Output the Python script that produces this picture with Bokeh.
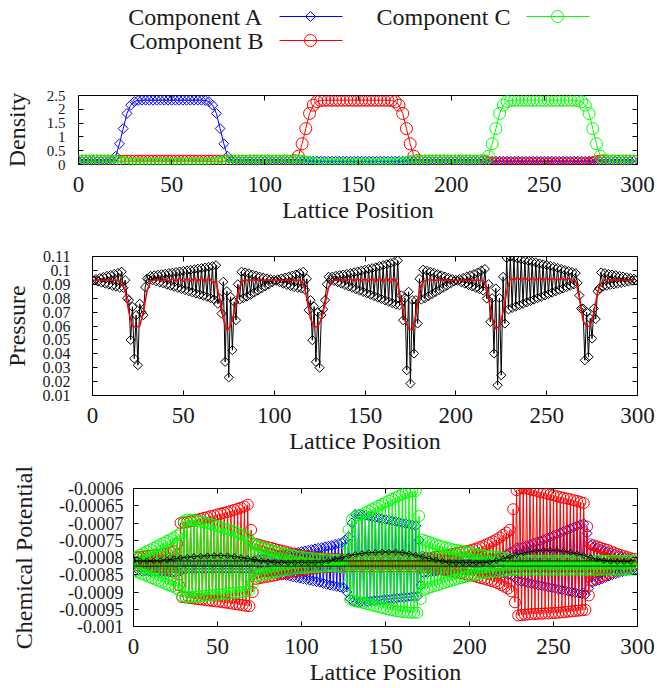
import numpy as np
from bokeh.plotting import figure
from bokeh.layouts import column
from bokeh.models import Range1d, FixedTicker, LinearAxis, PrintfTickFormatter, CustomJSTickFormatter
from bokeh.embed import file_html
from bokeh.resources import INLINE
from bokeh.core.properties import value

FONT = "Liberation Serif, serif"
BLUE, RED, GREEN, BLACK = "#0000ff", "#ff0000", "#00ff00", "#000000"
TXT = "#1a1a1a"

# ---------------- data ----------------
lattice = list(range(0, 300))          # every lattice site
lattice2 = list(range(0, 300, 2))      # every second site
lattice4 = list(range(0, 300, 4))      # every fourth site

x_ticks = [0, 50, 100, 150, 200, 250, 300]
density_ticks = [0, 0.5, 1, 1.5, 2, 2.5]
pressure_ticks = [0.01, 0.02, 0.03, 0.04, 0.05, 0.06, 0.07, 0.08, 0.09, 0.1, 0.11]
mu_ticks = [-0.001, -0.00095, -0.0009, -0.00085, -0.0008, -0.00075, -0.0007, -0.00065, -0.0006]
legend_labels = ["Component A", "Component B", "Component C"]

# densities at x = 0,2,...,298
rho_A = ([0.12] * 9 + [0.14, 0.30, 0.75, 1.30, 1.85, 2.15, 2.28, 2.32] + [2.33] * 17
         + [2.32, 2.28, 2.15, 1.85, 1.30, 0.75, 0.30, 0.14] + [0.12] * 108)
rho_B = ([0.12] * 58 + [0.14, 0.30, 0.75, 1.30, 1.85, 2.15, 2.28, 2.32] + [2.33] * 18
         + [2.32, 2.28, 2.15, 1.85, 1.30, 0.75, 0.30, 0.14] + [0.12] * 17
         + [0.10, 0.06, 0.03] + [0.02] * 25 + [0.03, 0.06, 0.10] + [0.12] * 10)
rho_C = ([0.12] * 10 + [0.11, 0.09, 0.06, 0.03, 0.02] + [0.01] * 21 + [0.02, 0.04, 0.07, 0.10, 0.11]
         + [0.12] * 19 + [0.11, 0.09, 0.06, 0.03, 0.02] + [0.01] * 21 + [0.02, 0.04, 0.07, 0.10, 0.11]
         + [0.12] * 18 + [0.14, 0.30, 0.75, 1.30, 1.85, 2.15, 2.28, 2.32] + [2.33] * 17
         + [2.32, 2.28, 2.15, 1.85, 1.30, 0.75, 0.30, 0.14] + [0.12] * 8)

# pressure at even sites (0,2,..,298) and odd sites (1,3,..,299)
pressure_even = [
    0.0930, 0.0937, 0.0945, 0.0952, 0.0960, 0.0967, 0.0975, 0.0982, 0.0990, 0.0930,
    0.0786, 0.0738, 0.0678, 0.0760, 0.0678, 0.0940, 0.0960, 0.0964, 0.0968, 0.0972,
    0.0976, 0.0980, 0.0984, 0.0988, 0.0992, 0.0996, 0.1000, 0.1004, 0.1008, 0.1012,
    0.1016, 0.1020, 0.1025, 0.1030, 0.1037, 0.0798, 0.0918, 0.0850, 0.0810, 0.0774,
    0.0900, 0.0990, 0.0985, 0.0978, 0.0970, 0.0962, 0.0955, 0.0948, 0.0942, 0.0936,
    0.0932, 0.0936, 0.0942, 0.0948, 0.0955, 0.0962, 0.0970, 0.0980, 0.0990, 0.0940,
    0.0786, 0.0740, 0.0700, 0.0678, 0.0786, 0.0954, 0.0955, 0.0960, 0.0965, 0.0970,
    0.0975, 0.0980, 0.0986, 0.0992, 0.0998, 0.1004, 0.1010, 0.1016, 0.1022, 0.1030,
    0.1037, 0.1044, 0.1052, 0.1060, 0.1070, 0.0820, 0.0800, 0.0846, 0.0786, 0.0786,
    0.0940, 0.1005, 0.0998, 0.0990, 0.0982, 0.0973, 0.0964, 0.0955, 0.0946, 0.0938,
    0.0932, 0.0938, 0.0946, 0.0955, 0.0964, 0.0973, 0.0985, 0.0998, 0.1010, 0.0900,
    0.0800, 0.0870, 0.0800, 0.0954, 0.1090, 0.1098, 0.1092, 0.1086, 0.1080, 0.1074,
    0.1068, 0.1062, 0.1056, 0.1050, 0.1044, 0.1038, 0.1032, 0.1025, 0.1018, 0.1010,
    0.1002, 0.0995, 0.0988, 0.0980, 0.0820, 0.0726, 0.0700, 0.0654, 0.0726, 0.0850,
    0.0985, 0.0980, 0.0975, 0.0970, 0.0965, 0.0960, 0.0955, 0.0950, 0.0945, 0.0940,
]
pressure_odd = [
    0.0928, 0.0920, 0.0912, 0.0905, 0.0898, 0.0890, 0.0883, 0.0876, 0.0875, 0.0800,
    0.0500, 0.0366, 0.0318, 0.0700, 0.0880, 0.0935, 0.0930, 0.0922, 0.0914, 0.0906,
    0.0898, 0.0890, 0.0882, 0.0874, 0.0866, 0.0858, 0.0850, 0.0842, 0.0834, 0.0826,
    0.0818, 0.0810, 0.0800, 0.0790, 0.0760, 0.0690, 0.0342, 0.0230, 0.0426, 0.0642,
    0.0790, 0.0800, 0.0812, 0.0825, 0.0840, 0.0855, 0.0870, 0.0885, 0.0900, 0.0915,
    0.0925, 0.0915, 0.0905, 0.0895, 0.0888, 0.0880, 0.0875, 0.0870, 0.0860, 0.0714,
    0.0498, 0.0342, 0.0300, 0.0720, 0.0900, 0.0930, 0.0925, 0.0915, 0.0905, 0.0895,
    0.0885, 0.0875, 0.0865, 0.0855, 0.0845, 0.0835, 0.0825, 0.0815, 0.0805, 0.0795,
    0.0785, 0.0775, 0.0765, 0.0755, 0.0750, 0.0642, 0.0282, 0.0186, 0.0402, 0.0618,
    0.0790, 0.0800, 0.0815, 0.0830, 0.0845, 0.0860, 0.0875, 0.0890, 0.0905, 0.0920,
    0.0925, 0.0915, 0.0905, 0.0895, 0.0885, 0.0875, 0.0865, 0.0855, 0.0798, 0.0630,
    0.0402, 0.0174, 0.0246, 0.0618, 0.0720, 0.0730, 0.0740, 0.0750, 0.0760, 0.0770,
    0.0780, 0.0790, 0.0800, 0.0810, 0.0820, 0.0830, 0.0840, 0.0850, 0.0860, 0.0870,
    0.0880, 0.0890, 0.0900, 0.0910, 0.0726, 0.0354, 0.0378, 0.0510, 0.0650, 0.0870,
    0.0884, 0.0890, 0.0895, 0.0900, 0.0905, 0.0910, 0.0915, 0.0920, 0.0925, 0.0930,
]
# averaged pressure at x = 0,2,...,298
pressure_avg = [
    0.0930, 0.0930, 0.0930, 0.0930, 0.0930, 0.0930, 0.0930, 0.0928, 0.0915, 0.0850,
    0.0700, 0.0600, 0.0590, 0.0600, 0.0700, 0.0850, 0.0920, 0.0930, 0.0935, 0.0925,
    0.0938, 0.0925, 0.0940, 0.0922, 0.0942, 0.0920, 0.0944, 0.0920, 0.0946, 0.0918,
    0.0948, 0.0915, 0.0950, 0.0912, 0.0920, 0.0800, 0.0650, 0.0570, 0.0600, 0.0700,
    0.0840, 0.0915, 0.0935, 0.0925, 0.0935, 0.0928, 0.0933, 0.0930, 0.0932, 0.0930,
    0.0930, 0.0930, 0.0930, 0.0930, 0.0930, 0.0930, 0.0930, 0.0928, 0.0910, 0.0800,
    0.0650, 0.0594, 0.0594, 0.0650, 0.0760, 0.0880, 0.0925, 0.0932, 0.0930, 0.0935,
    0.0928, 0.0938, 0.0925, 0.0940, 0.0922, 0.0942, 0.0920, 0.0945, 0.0918, 0.0948,
    0.0915, 0.0950, 0.0912, 0.0950, 0.0900, 0.0780, 0.0640, 0.0580, 0.0570, 0.0680,
    0.0850, 0.0920, 0.0930, 0.0934, 0.0928, 0.0933, 0.0930, 0.0931, 0.0930, 0.0930,
    0.0930, 0.0930, 0.0930, 0.0930, 0.0930, 0.0930, 0.0930, 0.0930, 0.0915, 0.0800,
    0.0650, 0.0580, 0.0600, 0.0700, 0.0850, 0.0945, 0.0930, 0.0950, 0.0928, 0.0948,
    0.0928, 0.0948, 0.0930, 0.0946, 0.0930, 0.0945, 0.0932, 0.0943, 0.0932, 0.0942,
    0.0933, 0.0940, 0.0930, 0.0925, 0.0800, 0.0640, 0.0594, 0.0600, 0.0700, 0.0840,
    0.0910, 0.0930, 0.0935, 0.0932, 0.0933, 0.0931, 0.0931, 0.0930, 0.0930, 0.0930,
]

# chemical potential, units of 1e-4: "hi" at even sites, "lo" at odd sites
muA_hi = ([-8.10, -8.10, -8.10, -8.10, -8.09, -8.09, -8.08, -8.08, -8.07, -8.07,
           -8.06, -8.06, -8.05, -8.07, -8.10, -8.11, -8.12, -8.12, -8.12, -8.12]
          + [-8.12] * 10 +
          [-8.12, -8.12, -8.12, -8.12, -8.12, -8.10, -8.08, -8.06, -8.04, -8.02,
           -8.00, -7.98, -7.97, -7.95, -7.93, -7.92, -7.90, -7.88, -7.86, -7.85,
           -7.83, -7.81, -7.79, -7.77, -7.75, -7.73, -7.71, -7.69, -7.67, -7.65,
           -7.62, -7.60, -7.57, -7.50, -7.40, -7.00, -6.75, -6.76, -6.77, -6.78,
           -6.80, -6.82, -6.84, -6.86, -6.88, -6.90, -6.92, -6.94, -6.96, -6.98,
           -7.00, -7.02, -7.04, -7.06, -7.08, -7.50, -7.95, -7.97, -8.00, -8.02,
           -8.03, -8.04, -8.05, -8.05, -8.06, -8.06, -8.07, -8.07, -8.07, -8.07,
           -8.07, -8.07, -8.06, -8.06, -8.05, -8.04, -8.03, -8.02, -8.00, -7.98,
           -7.95, -7.90, -7.85, -7.80, -7.72, -7.70, -7.68, -7.65, -7.62, -7.58,
           -7.55, -7.52, -7.48, -7.44, -7.40, -7.36, -7.32, -7.28, -7.24, -7.20,
           -7.16, -7.12, -7.08, -7.05, -7.02, -7.30, -7.65, -7.68, -7.72, -7.76,
           -7.80, -7.84, -7.87, -7.90, -7.94, -7.97, -8.00, -8.02, -8.05, -8.07])
muA_lo = ([-8.38, -8.38, -8.39, -8.39, -8.40, -8.40, -8.41, -8.41, -8.42, -8.42,
           -8.43, -8.43, -8.44, -8.42, -8.36, -8.34, -8.33, -8.33, -8.33, -8.33]
          + [-8.33] * 10 +
          [-8.33, -8.33, -8.33, -8.33, -8.33, -8.34, -8.36, -8.38, -8.40, -8.41,
           -8.42, -8.44, -8.46, -8.48, -8.50, -8.52, -8.54, -8.56, -8.58, -8.60,
           -8.62, -8.64, -8.66, -8.68, -8.70, -8.72, -8.75, -8.78, -8.80, -8.82,
           -8.84, -8.86, -8.88, -9.00, -9.20, -9.28, -9.30, -9.29, -9.28, -9.27,
           -9.26, -9.25, -9.24, -9.23, -9.22, -9.21, -9.20, -9.19, -9.18, -9.17,
           -9.16, -9.15, -9.14, -9.13, -9.12, -8.80, -8.45, -8.44, -8.42, -8.41,
           -8.40, -8.39, -8.38, -8.38, -8.37, -8.37, -8.36, -8.36, -8.36, -8.36,
           -8.36, -8.36, -8.37, -8.37, -8.38, -8.39, -8.40, -8.41, -8.43, -8.45,
           -8.47, -8.50, -8.52, -8.60, -8.68, -8.70, -8.72, -8.74, -8.76, -8.78,
           -8.80, -8.82, -8.84, -8.86, -8.88, -8.90, -8.92, -8.94, -8.96, -8.98,
           -9.00, -9.02, -9.04, -9.06, -9.07, -8.90, -8.72, -8.69, -8.66, -8.62,
           -8.58, -8.54, -8.50, -8.47, -8.44, -8.41, -8.39, -8.37, -8.35, -8.34])
muB_hi = ([-8.00, -7.99, -7.98, -7.97, -7.96, -7.95, -7.94, -7.93, -7.92, -7.90,
           -7.88, -7.85, -7.82, -7.60, -7.00, -6.99, -6.97, -6.95, -6.93, -6.90,
           -6.88, -6.85, -6.83, -6.80, -6.78, -6.75, -6.73, -6.70, -6.68, -6.65,
           -6.62, -6.59, -6.56, -6.52, -6.47, -7.20, -7.60, -7.62, -7.65, -7.68,
           -7.70, -7.72, -7.75, -7.78, -7.80, -7.82, -7.85, -7.88, -7.90, -7.92,
           -7.95, -7.96, -7.98, -7.99, -8.00, -8.01, -8.02, -8.03, -8.04, -8.04,
           -8.05, -8.05, -8.06, -8.06, -8.07, -8.07, -8.08, -8.08, -8.08, -8.08]
          + [-8.08] * 10 +
          [-8.08, -8.08, -8.08, -8.08, -8.08, -8.07, -8.05, -8.04, -8.02, -8.00,
           -7.98, -7.97, -7.95, -7.93, -7.92, -7.90, -7.88, -7.86, -7.84, -7.82,
           -7.80, -7.77, -7.74, -7.70, -7.67, -7.62, -7.58, -7.53, -7.48, -7.42,
           -7.35, -7.28, -7.20, -6.60, -6.05, -6.00, -5.98, -6.00, -6.02, -6.05,
           -6.07, -6.10, -6.12, -6.15, -6.17, -6.20, -6.22, -6.25, -6.27, -6.29,
           -6.31, -6.34, -6.36, -6.39, -6.42, -7.10, -7.62, -7.65, -7.68, -7.72,
           -7.75, -7.78, -7.82, -7.86, -7.90, -7.93, -7.96, -7.99, -8.02, -8.04])
muB_lo = ([-8.22, -8.23, -8.24, -8.25, -8.26, -8.27, -8.28, -8.29, -8.30, -8.32,
           -8.35, -8.40, -8.45, -8.80, -9.15, -9.16, -9.17, -9.18, -9.20, -9.21,
           -9.22, -9.24, -9.25, -9.26, -9.27, -9.28, -9.30, -9.31, -9.32, -9.34,
           -9.35, -9.37, -9.38, -9.40, -9.41, -9.00, -8.62, -8.60, -8.58, -8.56,
           -8.55, -8.53, -8.51, -8.49, -8.47, -8.45, -8.43, -8.41, -8.40, -8.38,
           -8.36, -8.35, -8.33, -8.32, -8.30, -8.29, -8.28, -8.27, -8.27, -8.26]
          + [-8.26] * 25 +
          [-8.27, -8.28, -8.29, -8.30, -8.31,
           -8.33, -8.34, -8.36, -8.38, -8.40, -8.42, -8.44, -8.46, -8.48, -8.50,
           -8.52, -8.54, -8.57, -8.60, -8.62, -8.65, -8.68, -8.71, -8.75, -8.80,
           -8.85, -8.90, -8.98, -9.30, -9.68, -9.67, -9.66, -9.65, -9.64, -9.64,
           -9.63, -9.63, -9.62, -9.62, -9.61, -9.61, -9.60, -9.59, -9.58, -9.57,
           -9.56, -9.55, -9.54, -9.53, -9.52, -9.10, -8.65, -8.62, -8.58, -8.54,
           -8.50, -8.46, -8.42, -8.38, -8.35, -8.32, -8.28, -8.25, -8.22, -8.20])
muC_hi = ([-8.02, -7.97, -7.92, -7.87, -7.82, -7.77, -7.72, -7.67, -7.62, -7.57,
           -7.52, -7.47, -7.42, -7.36, -7.30, -6.95, -6.90, -6.91, -6.92, -6.94,
           -6.96, -6.98, -7.01, -7.03, -7.06, -7.09, -7.12, -7.15, -7.18, -7.21,
           -7.25, -7.29, -7.33, -7.37, -7.42, -7.55, -7.62, -7.66, -7.70, -7.73,
           -7.76, -7.79, -7.82, -7.85, -7.87, -7.89, -7.91, -7.93, -7.95, -7.97,
           -7.98, -8.00, -8.01, -8.02, -8.03, -8.04, -8.05, -8.05, -8.06, -8.06,
           -8.07, -8.07, -8.08, -7.60, -7.20, -6.90, -6.82, -6.78, -6.75, -6.70,
           -6.65, -6.60, -6.55, -6.50, -6.45, -6.40, -6.35, -6.30, -6.26, -6.21,
           -6.17, -6.13, -6.10, -6.08, -6.07, -6.80, -7.48, -7.52, -7.55, -7.59,
           -7.62, -7.65, -7.68, -7.71, -7.73, -7.76, -7.78, -7.80, -7.82, -7.84,
           -7.86, -7.88, -7.90, -7.92, -7.93, -7.95, -7.96, -7.97, -7.98, -7.99,
           -8.00, -8.03, -8.05, -8.07, -8.08, -8.09, -8.10, -8.10, -8.10, -8.10]
          + [-8.10] * 30)
muC_lo = ([-8.40, -8.44, -8.48, -8.52, -8.56, -8.60, -8.64, -8.68, -8.72, -8.76,
           -8.80, -8.84, -8.88, -8.95, -9.12, -9.14, -9.15, -9.15, -9.14, -9.13,
           -9.12, -9.11, -9.10, -9.09, -9.08, -9.07, -9.06, -9.05, -9.04, -9.03,
           -9.02, -9.01, -9.00, -8.98, -8.95, -8.75, -8.55, -8.52, -8.50, -8.48,
           -8.46, -8.44, -8.42, -8.40, -8.38, -8.36, -8.35, -8.33, -8.32, -8.31,
           -8.30, -8.29, -8.28, -8.28, -8.27, -8.27, -8.26, -8.26, -8.25, -8.25,
           -8.25, -8.27, -8.30, -8.80, -9.22, -9.25, -9.27, -9.30, -9.32, -9.35,
           -9.37, -9.40, -9.42, -9.45, -9.47, -9.50, -9.52, -9.54, -9.56, -9.57,
           -9.58, -9.59, -9.60, -9.60, -9.60, -9.20, -8.93, -8.90, -8.86, -8.83,
           -8.80, -8.77, -8.74, -8.71, -8.68, -8.65, -8.62, -8.60, -8.57, -8.54,
           -8.52, -8.50, -8.48, -8.46, -8.45, -8.43, -8.42, -8.41, -8.40, -8.39,
           -8.38, -8.37, -8.36, -8.36, -8.35, -8.35, -8.35, -8.35, -8.35, -8.35]
          + [-8.35] * 30)
# averaged chemical potential (1e-4 units) at x = 0,4,...,296
mu_mean = [
    -8.10, -8.10, -8.10, -8.10, -8.09, -8.07, -8.04, -8.01, -7.99, -7.97,
    -7.96, -7.95, -7.94, -7.94, -7.95, -7.97, -8.00, -8.03, -8.06, -8.09,
    -8.12, -8.14, -8.15, -8.15, -8.15, -8.15, -8.15, -8.15, -8.14, -8.10,
    -8.05, -8.00, -7.95, -7.91, -7.88, -7.86, -7.85, -7.84, -7.84, -7.84,
    -7.86, -7.89, -7.93, -7.98, -8.03, -8.07, -8.11, -8.14, -8.15, -8.15,
    -8.15, -8.15, -8.15, -8.13, -8.09, -8.04, -7.98, -7.92, -7.87, -7.83,
    -7.80, -7.79, -7.79, -7.80, -7.82, -7.85, -7.89, -7.94, -8.00, -8.05,
    -8.09, -8.11, -8.12, -8.12, -8.12]
mu_level_1 = -8.10
mu_level_2 = -8.25


def interleave(even_vals, odd_vals, scale=1.0):
    out = []
    for e, o in zip(even_vals, odd_vals):
        out += [e * scale, o * scale]
    return out


pressure = interleave(pressure_even, pressure_odd)
mu_A = interleave(muA_hi, muA_lo, 1e-4)
mu_B = interleave(muB_hi, muB_lo, 1e-4)
mu_C = interleave(muC_hi, muC_lo, 1e-4)


# ---------------- styling helpers ----------------
def panel(height, left, top, bottom, yr, yticks, ylabel, ytick_size, s1, s2):
    p = figure(width=657, height=height, x_range=Range1d(0, 300), y_range=Range1d(*yr),
               output_backend="svg", toolbar_location=None,
               min_border_left=left, min_border_right=20,
               min_border_top=top, min_border_bottom=bottom)
    p.frame_align = False
    p.grid.visible = False
    p.outline_line_color = "black"
    p.outline_line_width = 1
    p.outline_line_alpha = 1
    xa, ya = p.xaxis[0], p.yaxis[0]
    xa.ticker = FixedTicker(ticks=x_ticks)
    ya.ticker = FixedTicker(ticks=yticks)
    xa.formatter = PrintfTickFormatter(format="%g")
    ya.formatter = PrintfTickFormatter(format="%g")
    for ax in (xa, ya):
        ax.axis_line_color = None
        ax.major_tick_in = 5
        ax.major_tick_out = 0
        ax.major_tick_line_color = "black"
        ax.minor_tick_line_color = None
        ax.major_label_text_font = FONT
        ax.major_label_text_color = TXT
        ax.axis_label_text_font = FONT
        ax.axis_label_text_font_style = "normal"
        ax.axis_label_text_font_size = "24px"
        ax.axis_label_text_color = TXT
    xa.axis_label = "Lattice Position"
    xa.major_label_text_font_size = "23px"
    xa.major_label_standoff = 12
    xa.axis_label_standoff = 2
    ya.axis_label = ylabel
    ya.major_label_text_font_size = ytick_size
    ya.major_label_standoff = s1
    ya.axis_label_standoff = s2
    for loc, ticks in (("right", yticks), ("above", x_ticks)):
        ax = LinearAxis(ticker=FixedTicker(ticks=ticks),
                        formatter=CustomJSTickFormatter(code="return ''"),
                        axis_line_color=None, major_tick_in=5, major_tick_out=0,
                        major_tick_line_color="black", minor_tick_line_color=None,
                        major_label_text_font_size="1px", major_label_standoff=0)
        p.add_layout(ax, loc)
    return p


def series(p, x, y, color, marker, size, lw=1.0):
    p.line(x[:len(y)], y, line_color=color, line_width=lw)
    kw = dict(angle=np.pi / 4) if marker == "square" else {}
    p.scatter(x[:len(y)], y, marker=marker, size=size, fill_color=None,
              line_color=color, line_width=1, **kw)


# ---------------- legend ----------------
leg = figure(width=657, height=68, x_range=Range1d(0, 657), y_range=Range1d(68, 0),
             output_backend="svg", toolbar_location=None, min_border=0,
             x_axis_location=None, y_axis_location=None)
leg.frame_align = False
leg.grid.visible = False
leg.outline_line_color = None
leg_entries = [(legend_labels[0], 263, 16, 279, BLUE, "square", 7),
               (legend_labels[1], 263, 40, 279, RED, "circle", 12),
               (legend_labels[2], 510, 16, 526, GREEN, "circle", 12)]
for lab, tx, ty, lx, col, mk, sz in leg_entries:
    leg.text(x=[tx], y=[ty], text=[lab], text_align="right", text_baseline="middle",
             text_font=value(FONT), text_font_size="24px", text_color=TXT)
    leg.line(x=[lx, lx + 63], y=[ty, ty], line_color=col, line_width=1)
    kw = dict(angle=np.pi / 4) if mk == "square" else {}
    leg.scatter(x=[lx + 31], y=[ty], marker=mk, size=sz, fill_color=None, line_color=col, **kw)

# ---------------- density ----------------
p1 = panel(158, 77, 27, 62, (0, 2.5), density_ticks, "Density", "15px", 13, 14)
series(p1, lattice2, rho_A, BLUE, "square", 7)
series(p1, lattice2, rho_B, RED, "circle", 12)
series(p1, lattice2, rho_C, GREEN, "circle", 12)

# ---------------- pressure ----------------
p2 = panel(231, 91, 30, 62, (0.01, 0.11), pressure_ticks, "Pressure", "16px", 22, 10)
series(p2, lattice, pressure, BLACK, "square", 6.5)
p2.line(lattice2[:len(pressure_avg)], pressure_avg, line_color=RED, line_width=1.5)

# ---------------- chemical potential ----------------
p3 = panel(231, 133, 31, 62, (-0.001, -0.0006), mu_ticks, "Chemical Potential", "18px", 10, 19)
series(p3, lattice, mu_A, BLUE, "square", 7)
series(p3, lattice, mu_B, RED, "circle", 11)
series(p3, lattice, mu_C, GREEN, "circle", 11)
p3.line(lattice, [mu_level_1 * 1e-4] * len(lattice), line_color=BLACK, line_width=1)
p3.line(lattice, [mu_level_2 * 1e-4] * len(lattice), line_color=BLACK, line_width=1)
mm = [v * 1e-4 for v in mu_mean]
p3.line(lattice4[:len(mm)], mm, line_color=BLACK, line_width=1)
p3.scatter(lattice4[:len(mm)], mm, marker="square", angle=np.pi / 4, size=4,
           fill_color=None, line_color=BLACK)

layout = column(leg, p1, p2, p3, spacing=0)
open("out.html", "w").write(file_html(layout, INLINE))
